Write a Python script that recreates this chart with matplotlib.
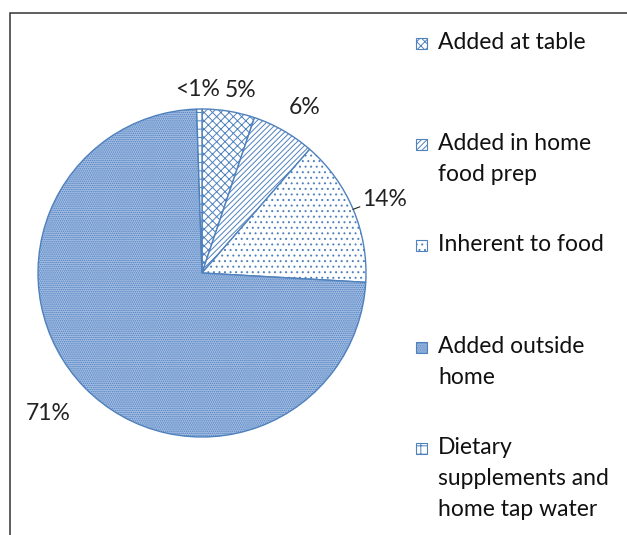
import matplotlib
matplotlib.use("Agg")
import matplotlib.pyplot as plt
from matplotlib.patches import Rectangle
from matplotlib.lines import Line2D
import numpy as np

plt.rcParams['font.family'] = ['Lato', 'DejaVu Sans']
plt.rcParams['hatch.linewidth'] = 0.7

# Data (clockwise from 12 o'clock)
categories = ["Added at table",
              "Added in home\nfood prep",
              "Inherent to food",
              "Added outside\nhome",
              "Dietary\nsupplements and\nhome tap water"]
shares = [5, 6, 14, 71, 0.5]
pctLabels = ["5%", "6%", "14%", "71%", "<1%"]

# Styling
hatches = ['xxxx', '//////', '...', '........', '++']
faceColors = ['white', 'white', 'white', '#a3bde4', 'white']
edgeColor = '#4f81bd'
labelDistances = [1.14, 1.19, 1.20, 1.27, 1.12]
labelNudges_deg = [-2.5, -2.0, -1.0, -2.0, 0.5]
fontSize = 16.5

W, H = 627, 535
fig = plt.figure(figsize=(W/100, H/100), dpi=100)

# pie centre (202, 273) px, radius 164 px
cx, cy, r = 202, 273, 164
ax = fig.add_axes([(cx - r)/W, (H - cy - r)/H, 2*r/W, 2*r/H])
wedges, _ = ax.pie(shares, startangle=90, counterclock=False,
                   colors=faceColors,
                   wedgeprops=dict(edgecolor=edgeColor, linewidth=1.0))
for wedge, hatch in zip(wedges, hatches):
    wedge.set_hatch(hatch)
ax.set_xlim(-1, 1)
ax.set_ylim(-1, 1)
ax.axis('off')

for wedge, label, dist, nudge in zip(wedges, pctLabels, labelDistances, labelNudges_deg):
    ang = np.deg2rad((wedge.theta1 + wedge.theta2)/2.0 + nudge)
    ax.text(dist*np.cos(ang), dist*np.sin(ang), label, ha='center', va='center',
            fontsize=fontSize, color='#222222', clip_on=False)
    if label == "14%":
        a0 = np.deg2rad((wedge.theta1 + wedge.theta2)/2.0)
        x0, y0 = np.cos(a0), np.sin(a0)
        ax.add_line(Line2D([x0, x0 + 0.04], [y0, y0 + 0.015], color='#222222',
                           linewidth=0.8, clip_on=False))

# legend drawn by hand: first-line baselines evenly spaced
legendX, legendBaseline, legendStep, lineStep = 416, 49, 101.2, 31
boxSize = 11
for i, (cat, hatch, face) in enumerate(zip(categories, hatches, faceColors)):
    base = legendBaseline + i*legendStep
    fig.add_artist(Rectangle((legendX/W, (H - base)/H), boxSize/W, boxSize/H,
                             transform=fig.transFigure, facecolor=face,
                             edgecolor=edgeColor, hatch=hatch, linewidth=0.8))
    for j, line in enumerate(cat.split("\n")):
        fig.text((legendX + 22)/W, (H - base - j*lineStep)/H, line, ha='left',
                 va='baseline', fontsize=fontSize, color='#111111')

# outer frame (cropped on right and bottom)
fig.add_artist(Rectangle((10/W, -0.05), 1.2, 1.05 - 12.5/H,
                         transform=fig.transFigure, fill=False,
                         edgecolor='#333333', linewidth=1.1))

fig.savefig('out.png', dpi=100)
